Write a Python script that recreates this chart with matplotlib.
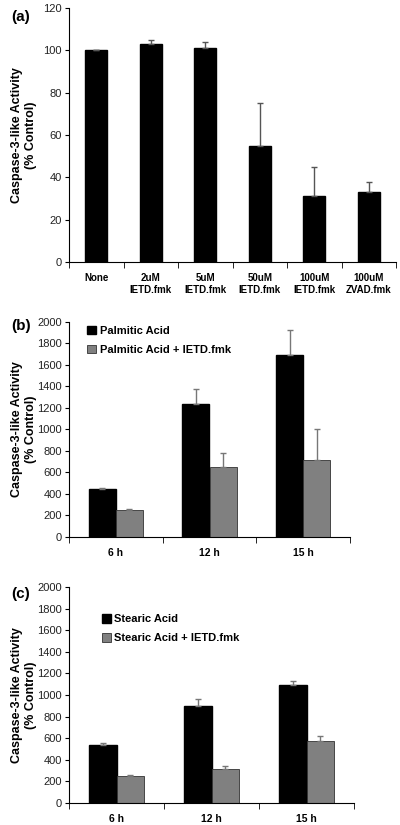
import numpy as np
import matplotlib
matplotlib.use('agg')
import matplotlib.pyplot as plt

plt.rcParams['font.family'] = ['Liberation Sans', 'DejaVu Sans']

# panel (a)
a_labels = ['None', '2uM\nIETD.fmk', '5uM\nIETD.fmk', '50uM\nIETD.fmk', '100uM\nIETD.fmk', '100uM\nZVAD.fmk']
a_vals = [100, 103, 101, 55, 31, 33]
a_err = [0, 2, 3, 20, 14, 5]

# panel (b)
times = ['6 h', '12 h', '15 h']
palm = [445, 1235, 1690]
palm_err = [15, 140, 235]
palm_ietd = [250, 650, 715]
palm_ietd_err = [15, 130, 285]

# panel (c)
stear = [540, 900, 1095]
stear_err = [15, 60, 30]
stear_ietd = [250, 310, 570]
stear_ietd_err = [10, 35, 50]

ylab = 'Caspase-3-like Activity\n(% Control)'

fig = plt.figure(figsize=(4, 8.25), dpi=100)


def style(ax, ncat, ymax, ystep, w_px):
    ax.spines['top'].set_visible(False)
    ax.spines['right'].set_visible(False)
    ax.set_xlim(-0.5, ncat - 0.5)
    ax.set_ylim(0, ymax)
    ax.set_yticks(np.arange(0, ymax + 1, ystep))
    ax.set_xticks(np.arange(-0.5, ncat, 1), minor=True)
    ax.tick_params(axis='x', which='major', length=0, pad=8)
    ax.tick_params(axis='x', which='minor', length=4, direction='out')
    ax.tick_params(axis='y', length=3, direction='out', labelsize=8, pad=2,
                   labelcolor='#222222')
    for lbl in ax.get_xticklabels():
        lbl.set_fontweight('bold')
    ax.set_ylabel(ylab, fontsize=9, fontweight='bold')
    # put the label edge at ~37 px from the figure's left side
    ax.yaxis.set_label_coords((37 - 69) / w_px, 0.5)


# (a)
ax1 = fig.add_axes([0.1725, 0.6824, 0.8175, 0.3079])
x = np.arange(len(a_vals))
ax1.bar(x, a_vals, width=0.4, color='black', edgecolor='black')
ax1.errorbar(x, a_vals, yerr=[np.zeros(len(a_err)), a_err], fmt='none',
             ecolor='#555555', elinewidth=1, capsize=2)
ax1.set_xticks(x)
ax1.set_xticklabels(a_labels, fontsize=7, fontweight='bold')
style(ax1, len(a_vals), 120, 20, 327)
fig.text(0.028, 0.975, '(a)', fontsize=11, fontweight='bold')

# (b)
ax2 = fig.add_axes([0.1725, 0.3491, 0.7025, 0.2606])
x = np.arange(len(times))
w = 0.29
ax2.bar(x - w / 2, palm, width=w, color='black', edgecolor='black', label='Palmitic Acid')
ax2.bar(x + w / 2, palm_ietd, width=w, color='#808080', edgecolor='#333333',
        linewidth=0.6, label='Palmitic Acid + IETD.fmk')
ax2.errorbar(x - w / 2, palm, yerr=[np.zeros(3), palm_err], fmt='none',
             ecolor='#777777', elinewidth=1, capsize=2)
ax2.errorbar(x + w / 2, palm_ietd, yerr=[np.zeros(3), palm_ietd_err], fmt='none',
             ecolor='#777777', elinewidth=1, capsize=2)
ax2.set_xticks(x)
ax2.set_xticklabels(times, fontsize=7.5, fontweight='bold')
style(ax2, 3, 2000, 200, 281)
ax2.legend(loc='upper left', bbox_to_anchor=(0.03, 1.03), frameon=False,
           prop={'weight': 'bold', 'size': 8}, handlelength=0.8,
           handleheight=0.8, handletextpad=0.3, labelspacing=0.8)
fig.text(0.028, 0.6, '(b)', fontsize=11, fontweight='bold')

# (c)
ax3 = fig.add_axes([0.1725, 0.0267, 0.7125, 0.2618])
ax3.bar(x - w / 2, stear, width=w, color='black', edgecolor='black', label='Stearic Acid')
ax3.bar(x + w / 2, stear_ietd, width=w, color='#808080', edgecolor='#333333',
        linewidth=0.6, label='Stearic Acid + IETD.fmk')
ax3.errorbar(x - w / 2, stear, yerr=[np.zeros(3), stear_err], fmt='none',
             ecolor='#777777', elinewidth=1, capsize=2)
ax3.errorbar(x + w / 2, stear_ietd, yerr=[np.zeros(3), stear_ietd_err], fmt='none',
             ecolor='#777777', elinewidth=1, capsize=2)
ax3.set_xticks(x)
ax3.set_xticklabels(times, fontsize=7.5, fontweight='bold')
style(ax3, 3, 2000, 200, 285)
ax3.legend(loc='upper left', bbox_to_anchor=(0.08, 0.92), frameon=False,
           prop={'weight': 'bold', 'size': 8}, handlelength=0.8,
           handleheight=0.8, handletextpad=0.3, labelspacing=0.8)
fig.text(0.028, 0.275, '(c)', fontsize=11, fontweight='bold')

fig.savefig('out.png', dpi=100)
